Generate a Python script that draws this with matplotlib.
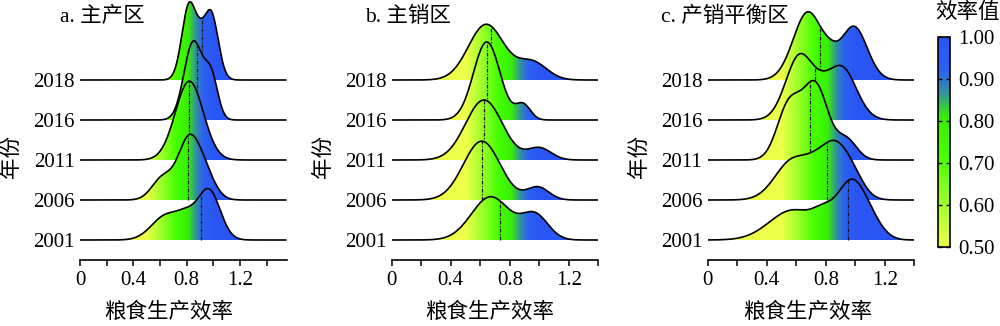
import numpy as np
import matplotlib
matplotlib.use("Agg")
import matplotlib.pyplot as plt
from matplotlib.colors import LinearSegmentedColormap, Normalize
from matplotlib.patches import Polygon
from matplotlib.cm import ScalarMappable

plt.rcParams['font.family'] = ['Liberation Serif', 'Noto Sans CJK SC']
plt.rcParams['axes.unicode_minus'] = False

# years, bottom ridge first
years = [2001, 2006, 2011, 2016, 2018]

# density outline of each ridge as kernel components: (centre, spread, height)
main_producing = [
    [(0.65, 0.11, 0.62), (0.80, 0.07, 0.38), (0.965, 0.085, 1.25)],
    [(0.62, 0.08, 0.55), (0.81, 0.08, 1.37), (0.93, 0.08, 0.65)],
    [(0.82, 0.105, 1.97)],
    [(0.85, 0.07, 1.95), (0.985, 0.05, 1.0)],
    [(0.82, 0.055, 1.9), (0.90, 0.035, 0.30), (0.98, 0.055, 1.7)],
]
main_selling = [
    [(0.67, 0.13, 1.08), (0.97, 0.09, 0.62)],
    [(0.61, 0.125, 1.47), (0.99, 0.075, 0.32)],
    [(0.625, 0.125, 1.5), (1.0, 0.08, 0.3)],
    [(0.644, 0.09, 1.95), (0.89, 0.05, 0.38)],
    [(0.64, 0.12, 1.39), (0.95, 0.10, 0.45)],
]
balanced = [
    [(0.58, 0.16, 0.75), (0.78, 0.07, 0.35), (0.975, 0.10, 1.43), (1.12, 0.08, 0.25)],
    [(0.58, 0.12, 1.0), (0.71, 0.06, 0.10), (0.86, 0.11, 1.39), (1.0, 0.07, 0.2)],
    [(0.55, 0.08, 1.35), (0.73, 0.085, 1.85), (0.94, 0.07, 0.5)],
    [(0.625, 0.095, 1.62), (0.77, 0.06, 0.2), (0.905, 0.10, 1.32)],
    [(0.68, 0.10, 1.7), (0.83, 0.05, 0.2), (0.99, 0.09, 1.33)],
]

# dotted reference line of each ridge
main_producing_mid = [0.905, 0.81, 0.82, 0.88, 0.918]
main_selling_mid = [0.734, 0.61, 0.623, 0.644, 0.67]
balanced_mid = [0.953, 0.806, 0.693, 0.727, 0.761]

panel_titles = ['a. 主产区', 'b. 主销区', 'c. 产销平衡区']
x_label = '粮食生产效率'
y_label = '年份'
cbar_title = '效率值'
cbar_ticks = [0.50, 0.60, 0.70, 0.80, 0.90, 1.00]

cmap = LinearSegmentedColormap.from_list('eff', [
    (0.00, '#eeff4a'),
    (0.30, '#7dff1c'),
    (0.44, '#44ff00'),
    (0.62, '#38ee05'),
    (0.74, '#3290a0'),
    (0.84, '#2c62f0'),
    (1.00, '#2a55f5'),
])
norm = Normalize(0.5, 1.0)


def density(x, comps):
    x = np.asarray(x, dtype=float)
    return sum(a * np.exp(-0.5 * ((x - m) / s) ** 2) for m, s, a in comps)


fig = plt.figure(figsize=(10, 3.26), dpi=100)

W, H = 1000, 326
panels = [
    dict(ridges=main_producing, mids=main_producing_mid, left=80, xmax=1.55,
         title_x=-0.097, xlab_x=0.43),
    dict(ridges=main_selling, mids=main_selling_mid, left=391.7, xmax=1.4,
         title_x=-0.129, xlab_x=0.475),
    dict(ridges=balanced, mids=balanced_mid, left=707.7, xmax=1.4,
         title_x=-0.227, xlab_x=0.486),
]

for p, title in zip(panels, panel_titles):
    ax = fig.add_axes([p['left'] / W, 66 / H, 206.7 / W, 260 / H])
    xmax = p['xmax']
    xs = np.linspace(0, xmax, 900)
    grad = np.linspace(0, xmax, 600)[None, :]
    for i, (comps, mid) in enumerate(zip(p['ridges'], p['mids'])):
        base = i
        z = 10 - i * 2  # lower ridges sit in front
        ys = density(xs, comps)
        verts = np.column_stack([np.r_[xs, xs[::-1]],
                                 np.r_[base + ys, np.full_like(xs, base)]])
        patch = Polygon(verts, closed=True, facecolor='none', edgecolor='none')
        ax.add_patch(patch)
        im = ax.imshow(grad, extent=[0, xmax, base, base + ys.max() + 0.05],
                       cmap=cmap, norm=norm, aspect='auto', origin='lower',
                       interpolation='bilinear', zorder=z)
        im.set_clip_path(patch)
        ax.plot([mid, mid], [base, base + density(mid, comps)],
                color='#1a1a1a', lw=0.9, ls=(0, (3, 1.2, 1, 1.2)), zorder=z + 0.5)
        ax.plot(xs, base + ys, color='black', lw=1.2, zorder=z + 0.8,
                solid_capstyle='butt')

    ax.set_xlim(0, xmax)
    ax.set_ylim(-0.5, 6.0)
    for s in ['top', 'right', 'left']:
        ax.spines[s].set_visible(False)
    ax.spines['bottom'].set_linewidth(1.2)
    ax.set_xticks([0, 0.4, 0.8, 1.2])
    ax.set_xticklabels(['0', '0.4', '0.8', '1.2'])
    ax.set_xticks([0.2, 0.6, 1.0, 1.4], minor=True)
    ax.tick_params(axis='x', which='both', direction='out', length=4, width=1.1,
                   labelsize=15, pad=4)
    ax.set_yticks(range(len(years)))
    ax.set_yticklabels([str(y) for y in years])
    ax.tick_params(axis='y', length=0, labelsize=15, pad=4)
    ax.set_xlabel(x_label, fontsize=15.5)
    ax.xaxis.set_label_coords(p['xlab_x'], -0.165)
    ax.set_ylabel(y_label, fontsize=15.5)
    ax.yaxis.set_label_coords(-0.28, 0.40)
    ax.text(p['title_x'], 0.935, title, transform=ax.transAxes, fontsize=15.5,
            ha='left', va='center')

cax = fig.add_axes([938 / W, 79 / H, 12 / W, 210 / H])
cb = fig.colorbar(ScalarMappable(norm=norm, cmap=cmap), cax=cax)
cb.set_ticks(cbar_ticks)
cb.set_ticklabels([f'{t:.2f}' for t in cbar_ticks])
cb.outline.set_linewidth(1.2)
cax.tick_params(which='both', direction='in', length=3, width=1, left=True,
                right=True, labelleft=False, labelright=True, labelsize=15, pad=6)
fig.text(967 / W, 1 - 13 / H, cbar_title, ha='center', va='center', fontsize=15.5)

fig.savefig('out.png', dpi=100)
